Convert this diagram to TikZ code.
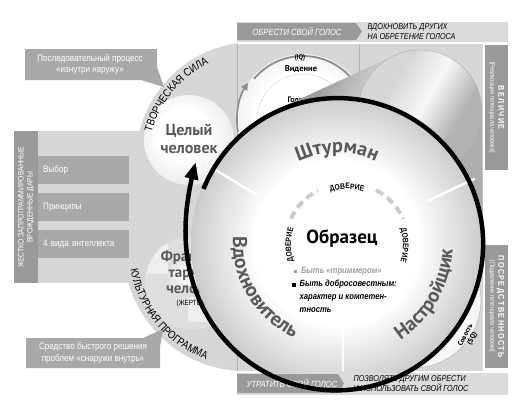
\documentclass[tikz,border=0pt]{standalone}
\usepackage{fontspec}
\setmainfont{PT Sans}
\newfontfamily\cond[FakeStretch=0.85]{Liberation Sans}
\usetikzlibrary{decorations.text,arrows.meta}
\definecolor{lightbg}{gray}{0.84}
\definecolor{midbox}{gray}{0.66}
\definecolor{darkbar}{gray}{0.60}
\definecolor{barlight}{gray}{0.86}
\definecolor{ringgray}{gray}{0.76}
\definecolor{txtgray}{gray}{0.35}
\definecolor{arcgray}{gray}{0.55}
\definecolor{dashgray}{gray}{0.80}
\definecolor{sdA}{gray}{0.92}
\definecolor{sdB}{gray}{0.80}
\definecolor{sdC}{gray}{0.87}
\definecolor{sdD}{gray}{0.76}
\definecolor{coneL}{gray}{0.62}
\definecolor{coneM}{gray}{0.93}
\definecolor{coneR}{gray}{0.68}
\definecolor{lensL}{gray}{0.84}
\definecolor{lensM}{gray}{0.97}
\definecolor{lensR}{gray}{0.70}
\pgfdeclareradialshading{bigdisc}{\pgfpoint{0bp}{0bp}}{color(0bp)=(white); color(14bp)=(white); color(27bp)=(ringgray); color(50bp)=(ringgray)}
\pgfdeclareradialshading{softdisc}{\pgfpoint{-5bp}{5bp}}{color(0bp)=(white); color(14bp)=(white); color(28bp)=(sdA); color(36bp)=(sdB); color(50bp)=(sdB)}
\pgfdeclareradialshading{fragdisc}{\pgfpoint{-5bp}{5bp}}{color(0bp)=(white); color(10bp)=(sdC); color(27bp)=(sdC); color(36bp)=(sdD); color(50bp)=(sdD)}
\pgfdeclareradialshading{quaddisc}{\pgfpoint{0bp}{0bp}}{color(0bp)=(white); color(18bp)=(white); color(30bp)=(sdA); color(36bp)=(sdC); color(50bp)=(sdC)}
\pgfdeclarehorizontalshading{conesh}{100bp}{color(0bp)=(coneL); color(30bp)=(coneL); color(48bp)=(coneM); color(62bp)=(coneR); color(100bp)=(coneR)}
\pgfdeclarehorizontalshading{lenssh}{100bp}{color(0bp)=(lensL); color(35bp)=(lensL); color(50bp)=(lensM); color(65bp)=(lensR); color(100bp)=(lensR)}
\tikzset{
  graybox/.style={fill=midbox, text=white, anchor=north west, minimum width=91pt, minimum height=28pt,
    inner xsep=5pt, inner ysep=0pt, text width=81pt, align=left, font=\cond\fontsize{9.5}{10}\selectfont},
  calltext/.style={text=white, align=center, font=\cond\fontsize{9.5}{11.5}\selectfont},
  barwhite/.style={text=white, font=\cond\itshape\fontsize{9}{10}\selectfont},
  barblack/.style={text=black, anchor=west, align=left, font=\cond\itshape\fontsize{8.5}{10}\selectfont},
  divider/.style={white, line width=2.5pt},
  trustdash/.style={dashgray, line width=4pt, dash pattern=on 8pt off 5pt},
  sidebar/.style={fill=darkbar, inner sep=0pt, anchor=north west}
}
\begin{document}
\begin{tikzpicture}[x=1pt,y=1pt]
\useasboundingbox (0,0) rectangle (523,-402);
\fill[white] (0,0) rectangle (523,-402);

% quadrant area
\fill[lightbg] (237,-44) rectangle (483,-371);
% left circular area
\begin{scope}
  \clip (0,0) rectangle (237,-402);
  \fill[lightbg] (254,-160) circle (118);
  \fill[lightbg] (245,-250) circle (121);
\end{scope}

% left panel
\fill[lightbg] (38,-131) rectangle (140,-283);
\node[graybox] (choice) at (38,-156) {Выбор};
\node[graybox] (princ) at (38,-193) {Принципы};
\node[graybox] (intel) at (38,-230) {4 вида интеллекта};
\node[sidebar, minimum width=24pt, minimum height=152pt] (gifts) at (14,-131) {};
\node[rotate=90, text=white, align=center, font=\cond\fontsize{8}{9}\selectfont] (giftstxt) at (gifts.center) {ЖЕСТКО ЗАПРОГРАММИРОВАННЫЕ\\ВРОЖДЕННЫЕ ДАРЫ};

% callouts
\fill[midbox] (25,-49) -- (157,-49) -- (157,-67) -- (164,-87) -- (141,-80) -- (25,-80) -- cycle;
\node[calltext] (inout) at (90,-64.5) {Последовательный процесс\\«изнутри наружу»};
\fill[midbox] (26,-368) -- (26,-338) -- (143,-338) -- (163,-329) -- (160,-347) -- (160,-368) -- cycle;
\node[calltext] (outin) at (93,-353) {Средство быстрого решения\\проблем «снаружи внутрь»};

% whole person
\shade[shading=softdisc] (189,-140) circle (45);
\node[font=\bfseries\fontsize{16}{18}\selectfont, text=txtgray, align=center] (whole) at (189,-139) {Целый\\человек};
\path[decorate, decoration={text along path, text align=center,
  text={|\cond\fontsize{11}{11}\selectfont|ТВОРЧЕСКАЯ СИЛА}}]
  ([shift={(254,-160)}]176:106) arc[start angle=176, end angle=104, radius=106];

% fragmented person
\shade[shading=fragdisc] (192,-283) circle (47);
\begin{scope}
  \clip (192,-283) circle (47);
  \fill[white, opacity=0.5] (140,-240) rectangle (168,-274);
  \fill[white, opacity=0.5] (188,-297) rectangle (208,-322);
\end{scope}
\node[font=\bfseries\fontsize{15}{16}\selectfont, text=txtgray, align=center] (frag) at (193,-272) {Фрагмен-\\тарный\\человек};
\node[font=\cond\fontsize{7.5}{8}\selectfont] (victim) at (192,-304) {(ЖЕРТВА)};
\path[decorate, decoration={text along path, text align=center,
  text={|\cond\fontsize{11}{11}\selectfont|КУЛЬТУРНАЯ ПРОГРАММА}}]
  ([shift={(245,-250)}]176:116) arc[start angle=176, end angle=264, radius=116];

% grid lines
\draw[gray!60, line width=0.6pt] (237,-44) -- (237,-371);
\draw[gray!60, line width=0.6pt] (359,-44) -- (359,-120);

% top-left quadrant circle
\shade[shading=quaddisc] (303,-120) circle (66);
\draw[gray!30, line width=0.5pt] (303,-120) circle (46);
\draw[white, line width=1.2pt] (253,-80) -- (284,-96);
\draw[arcgray, line width=1.8pt] ([shift={(303,-120)}]30:64) arc[start angle=30, end angle=140, radius=64];
\draw[arcgray, line width=1.6pt, -{Triangle[length=7pt,width=7pt]}] ([shift={(305,-120)}]190:68) arc[start angle=190, end angle=147, radius=68];
\node[font=\cond\bfseries\fontsize{7}{7}\selectfont] (iq) at (300,-58) {(IQ)};
\node[font=\bfseries\fontsize{8.5}{9}\selectfont] (vision) at (301,-69) {Видение};
\node[font=\bfseries\fontsize{8}{8}\selectfont] (voice) at (297,-100) {Голос};

% bottom-right quadrant circle
\shade[shading=quaddisc] (413,-300) circle (68);
\draw[gray!50, line width=0.6pt] (413,-300) circle (68);
\node[rotate=62, align=center, inner sep=0pt, font=\bfseries\fontsize{7}{7.5}\selectfont] (consc) at (469,-337) {Совесть\\(SQ)};

% cone
\shade[shading=conesh, shading angle=-30]
  (276,-110) -- (393.8,-55.8) arc[start angle=115, end angle=1.8, radius=62] -- (483,-238) -- (337,-243) -- cycle;
\shade[shading=lenssh, shading angle=-30] (420,-112) circle (62);
\draw[gray!60, line width=0.5pt] (420,-112) circle (62);

% big circle
\shade[shading=bigdisc] (337,-243) circle (146);
\draw[divider] ([shift={(337,-243)}]149:93) -- ([shift={(337,-243)}]149:152);
\draw[divider] ([shift={(337,-243)}]25:100) -- ([shift={(337,-243)}]25:152);
\draw[divider] (343,-310) -- (343,-371);

\path[decorate, decoration={text along path, text align=center, text color=txtgray,
  text={|\bfseries\fontsize{20}{20}\selectfont|Штурман}}]
  ([shift={(337,-243)}]125:90) arc[start angle=125, end angle=55, radius=90];
\path[decorate, decoration={text along path, text align=center, text color=txtgray,
  text={|\bfseries\fontsize{20}{20}\selectfont|Вдохновитель}}]
  ([shift={(337,-243)}]160:104) arc[start angle=160, end angle=262, radius=104];
\path[decorate, decoration={text along path, text align=center, text color=txtgray,
  text={|\bfseries\fontsize{20}{20}\selectfont|Настройщик}}]
  ([shift={(337,-243)}]-80:116) arc[start angle=-80, end angle=20, radius=116];

% trust ring
\path[decorate, decoration={text along path, text align=center,
  text={|\cond\bfseries\fontsize{8}{8}\selectfont|ДОВЕРИЕ}}]
  ([shift={(347,-245)}]115:56) arc[start angle=115, end angle=65, radius=56];
\path[decorate, decoration={text along path, text align=center,
  text={|\cond\bfseries\fontsize{8}{8}\selectfont|ДОВЕРИЕ}}]
  ([shift={(347,-245)}]205:56) arc[start angle=205, end angle=155, radius=56];
\path[decorate, decoration={text along path, text align=center,
  text={|\cond\bfseries\fontsize{8}{8}\selectfont|ДОВЕРИЕ}}]
  ([shift={(347,-245)}]25:56) arc[start angle=25, end angle=-25, radius=56];
\draw[trustdash] ([shift={(347,-245)}]155:62) arc[start angle=155, end angle=118, radius=62];
\draw[trustdash] ([shift={(347,-245)}]62:62) arc[start angle=62, end angle=25, radius=62];

\node[font=\bfseries\fontsize{19}{19}\selectfont] (model) at (342,-238) {Образец};
\node[anchor=west, text=gray!75, font=\cond\bfseries\itshape\fontsize{9}{12}\selectfont] (trim) at (290,-271)
  {\rule{3.5pt}{3.5pt}\hspace{4pt}Быть «триммером»};
\node[anchor=north west, align=left, inner sep=2pt, font=\cond\bfseries\itshape\fontsize{9}{13}\selectfont] (consc2) at (290,-278)
  {\rule{3.5pt}{3.5pt}\hspace{4pt}Быть добросовестным:\\\hspace{7.5pt}характер и компетен-\\\hspace{7.5pt}тность};

% top bars
\fill[barlight] (237,-22) rectangle (508,-42);
\fill[darkbar] (237,-23) -- (356,-23) -- (362,-31.5) -- (356,-40) -- (237,-40) -- cycle;
\node[barwhite] (findvoice) at (297,-31.5) {ОБРЕСТИ СВОЙ ГОЛОС};
\node[barblack] (inspire) at (364,-32) {ВДОХНОВИТЬ ДРУГИХ\\НА ОБРЕТЕНИЕ ГОЛОСА};

% bottom bars
\fill[barlight] (237,-373) rectangle (508,-395);
\fill[darkbar] (237,-374) -- (338,-374) -- (344,-383.5) -- (338,-393) -- (237,-393) -- cycle;
\node[barwhite] (losevoice) at (292,-383.5) {УТРАТИТЬ СВОЙ ГОЛОС};
\node[barblack] (allow) at (350,-384) {ПОЗВОЛЯТЬ ДРУГИМ ОБРЕСТИ\\И ИСПОЛЬЗОВАТЬ СВОЙ ГОЛОС};

% right bars
\node[sidebar, minimum width=23pt, minimum height=125pt] (greatbar) at (485,-45) {};
\node[rotate=-90, align=center, text=white, font=\cond\fontsize{6.5}{8}\selectfont] (great) at (greatbar.center)
  {{\bfseries\fontsize{8.5}{9}\selectfont В\,Е\,Л\,И\,Ч\,И\,Е}\\{[Реализация потенциала человека]}};
\node[sidebar, minimum width=23pt, minimum height=123pt] (medbar) at (485,-245) {};
\node[rotate=-90, align=center, text=white, font=\cond\fontsize{6.5}{8}\selectfont] (medio) at (medbar.center)
  {{\bfseries\fontsize{8.5}{9}\selectfont П\,О\,С\,Р\,Е\,Д\,С\,Т\,В\,Е\,Н\,Н\,О\,С\,Т\,Ь}\\{[Подавление потенциала человека]}};

% spiral arrow
\draw[line width=4.5pt, -{Triangle[length=17pt,width=13pt]}]
  plot[domain=0.0001:1, samples=220, variable=\t]
  ({337+(144+5*\t+14*\t^20)*cos(158-368*\t)}, {-243+(144+5*\t+14*\t^20)*sin(158-368*\t)});
\end{tikzpicture}
\end{document}
